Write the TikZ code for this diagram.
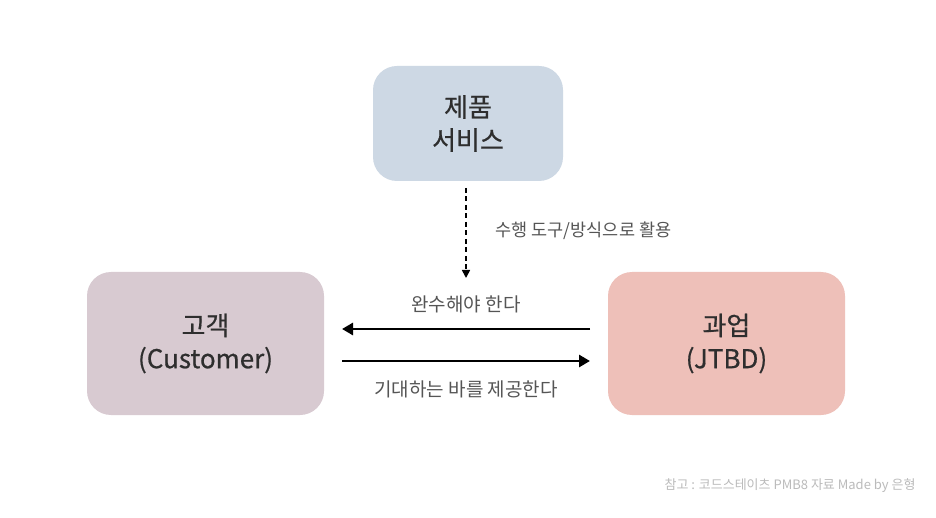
\documentclass[tikz,border=0pt]{standalone}
\usepackage{fontspec}
\setmainfont{Noto Sans CJK KR}
\newfontfamily\medfont[FakeBold=0.6]{Noto Sans CJK KR}
\usetikzlibrary{arrows.meta}
\definecolor{boxblue}{HTML}{CDD8E4}
\definecolor{boxmauve}{HTML}{D8CAD1}
\definecolor{boxpink}{HTML}{EEC0B9}
\definecolor{txt}{HTML}{2E2E2E}
\definecolor{lbl}{HTML}{555555}
\definecolor{note}{HTML}{BBBBBB}
\tikzset{
  box/.style={rounded corners=24pt, minimum width=#1, minimum height=143pt, align=center, text=txt, font=\medfont\fontsize{26}{33}\selectfont, inner sep=0pt},
  lab/.style={text=lbl, font=\fontsize{17.5}{20}\selectfont},
  midlab/.style={text=lbl, font=\fontsize{19}{22}\selectfont},
  conn/.style={line width=2.8pt, -{Triangle[length=11pt,width=12pt]}},
}
\begin{document}
\begin{tikzpicture}[x=1pt,y=-1pt]
\useasboundingbox[fill=white] (0,0) rectangle (936,518);
\node[box=190pt, minimum height=115pt, fill=boxblue] (prod) at (468,123.5) {제품\\서비스};
\node[box=237pt, fill=boxmauve] (cust) at (205.5,343.5) {고객\\(Customer)};
\node[box=237pt, fill=boxpink] (job) at (726.5,343.5) {과업\\(JTBD)};
\coordinate (dtop) at (466,188);
\coordinate (dbot) at (466,278);
\draw[line width=1.6pt, dash pattern=on 5pt off 3.5pt, -{Triangle[length=8pt,width=8pt]}] (dtop) -- (dbot);
\node[lab, anchor=west] (use) at (492,231) {수행 도구/방식으로 활용};
\coordinate (la) at (590,329);
\coordinate (lb) at (342,329);
\coordinate (ra) at (342,361);
\coordinate (rb) at (590,361);
\draw[conn] (la) -- (lb);
\draw[conn] (ra) -- (rb);
\node[midlab] (must) at (466,304) {완수해야 한다};
\node[midlab] (give) at (466,389) {기대하는 바를 제공한다};
\node[text=note, font=\fontsize{13}{15}\selectfont, anchor=east] (ref) at (919,486) {참고 : 코드스테이츠 PMB8 자료 Made by 은형};
\end{tikzpicture}
\end{document}
